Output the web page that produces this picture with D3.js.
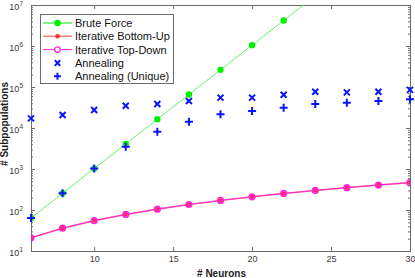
<!DOCTYPE html>
<html>
<head>
<meta charset="utf-8">
<script src="https://cdn.jsdelivr.net/npm/d3@7"></script>
<style>
  body { margin: 0; background: #fff; }
  svg { display: block; font-family: "Liberation Sans", Arial, sans-serif; }
</style>
</head>
<body>
<svg id="chart" width="415" height="278"></svg>
<script>
// data
var neurons = [6, 8, 10, 12, 14, 16, 18, 20, 22, 24, 26, 28, 30]
var bruteForce = [64, 256, 1024, 4096, 16384, 65536, 262144, 1048576, 4194304, 16777216, 67108864, 268435456, 1073741824]
var bottomUp = [21, 36, 55, 78, 105, 136, 171, 210, 253, 300, 351, 406, 465]
var topDown = [21, 36, 55, 78, 105, 136, 171, 210, 253, 300, 351, 406, 465]
var annealing = [17200, 20700, 27500, 35000, 38400, 45700, 55000, 55000, 64600, 76700, 74000, 76700, 85000]
var annealingUnique = [64, 256, 1024, 3480, 8100, 14300, 21600, 26000, 31300, 38400, 41400, 45700, 50000]
var xTicks = [10, 15, 20, 25, 30]
var yTicks = [1e1, 1e2, 1e3, 1e4, 1e5, 1e6, 1e7]
var legendNames = ['Brute Force', 'Iterative Bottom-Up', 'Iterative Top-Down', 'Annealing', 'Annealing (Unique)']

var margin = { top: 5, right: 5, bottom: 27, left: 31 }
var width = 415, height = 278

var svg = d3.select('#chart')

var xScale = d3.scaleLinear()
  .domain([6, 30])
  .range([margin.left, width - margin.right])

var yScale = d3.scaleLog()
  .domain([1e1, 1e7])
  .range([height - margin.bottom, margin.top])

var axisColor = '#6b6b6b'
var textColor = '#3a3a3a'

svg.append('clipPath').attr('id', 'plotClip')
  .append('rect')
  .attr('x', margin.left).attr('y', margin.top)
  .attr('width', xScale.range()[1] - margin.left)
  .attr('height', yScale.range()[0] - margin.top)

// minor log ticks
var minorTicks = []
for (var e = 1; e < 7; e++) {
  for (var m = 2; m <= 9; m++) minorTicks.push(m * Math.pow(10, e))
}

// axes (MATLAB style box, ticks inward)
var xBottom = d3.axisBottom(xScale).tickValues(xTicks).tickSize(-4).tickPadding(5).tickFormat(d3.format('d'))
var xTop = d3.axisTop(xScale).tickValues(xTicks).tickSize(-4).tickFormat('')
var yLeft = d3.axisLeft(yScale).tickValues(yTicks).tickSize(-4).tickPadding(6).tickFormat('')
var yRight = d3.axisRight(yScale).tickValues(yTicks).tickSize(-4).tickFormat('')
var yLeftMinor = d3.axisLeft(yScale).tickValues(minorTicks).tickSize(-2).tickFormat('')
var yRightMinor = d3.axisRight(yScale).tickValues(minorTicks).tickSize(-2).tickFormat('')

function styleAxis(g) {
  g.selectAll('path.domain').attr('stroke', axisColor)
  g.selectAll('line').attr('stroke', axisColor)
  g.selectAll('text').attr('fill', textColor).style('font-size', '9px').style('font-family', '"Liberation Sans", Arial, sans-serif')
}

svg.append('g').attr('transform', 'translate(0,' + yScale.range()[0] + ')').call(xBottom).call(styleAxis)
svg.append('g').attr('transform', 'translate(0,' + margin.top + ')').call(xTop).call(styleAxis)
svg.append('g').attr('transform', 'translate(' + margin.left + ',0)').call(yLeftMinor).call(styleAxis)
svg.append('g').attr('transform', 'translate(' + xScale.range()[1] + ',0)').call(yRightMinor).call(styleAxis)
var yAxisG = svg.append('g').attr('transform', 'translate(' + margin.left + ',0)').call(yLeft).call(styleAxis)
svg.append('g').attr('transform', 'translate(' + xScale.range()[1] + ',0)').call(yRight).call(styleAxis)

// y tick labels as 10 with superscript
yAxisG.selectAll('.tick').each(function(d) {
  var t = d3.select(this).append('text')
    .attr('x', -8).attr('dy', '0.45em')
    .attr('text-anchor', 'end')
    .attr('fill', textColor)
    .style('font-size', '9px')
  t.append('tspan').text('10')
  t.append('tspan').attr('dy', '-0.55em').style('font-size', '6.5px').text(Math.round(Math.log10(d)))
})

// axis titles
svg.append('text')
  .attr('x', (margin.left + xScale.range()[1]) / 2 + 1)
  .attr('y', 277)
  .attr('text-anchor', 'middle')
  .style('font-size', '10px').style('font-weight', 'bold')
  .attr('fill', '#222')
  .text('# Neurons')

svg.append('text')
  .attr('transform', 'translate(8,' + 124 + ') rotate(-90)')
  .attr('text-anchor', 'middle')
  .style('font-size', '10px').style('font-weight', 'bold')
  .attr('fill', '#222')
  .text('# Subpopulations')

var plot = svg.append('g').attr('clip-path', 'url(#plotClip)')

function series(values) {
  return neurons.map(function(n, i) { return { x: n, y: values[i] } })
}

var line = d3.line()
  .x(function(d) { return xScale(d.x) })
  .y(function(d) { return yScale(d.y) })

var green = '#00ee00', red = '#ff2a2a', magenta = '#ff22dd', blue = '#0a14ff'

// brute force
plot.append('path').datum(series(bruteForce))
  .attr('d', line).attr('fill', 'none').attr('stroke', '#66f266').attr('stroke-width', 1)
plot.selectAll('.bf').data(series(bruteForce)).enter().append('circle')
  .attr('cx', function(d) { return xScale(d.x) }).attr('cy', function(d) { return yScale(d.y) })
  .attr('r', 3.2).attr('fill', green)

// iterative bottom-up
plot.append('path').datum(series(bottomUp))
  .attr('d', line).attr('fill', 'none').attr('stroke', '#ff8080').attr('stroke-width', 1.6)
plot.selectAll('.bu').data(series(bottomUp)).enter().append('circle')
  .attr('cx', function(d) { return xScale(d.x) }).attr('cy', function(d) { return yScale(d.y) })
  .attr('r', 2.2).attr('fill', red)

// iterative top-down
plot.append('path').datum(series(topDown))
  .attr('d', line).attr('fill', 'none').attr('stroke', magenta).attr('stroke-width', 1)
plot.selectAll('.td').data(series(topDown)).enter().append('circle')
  .attr('cx', function(d) { return xScale(d.x) }).attr('cy', function(d) { return yScale(d.y) })
  .attr('r', 2.8).attr('fill', 'none').attr('stroke', magenta).attr('stroke-width', 1.6)

function cross(g, s) {
  g.append('path').attr('d', 'M' + -s + ',' + -s + 'L' + s + ',' + s + 'M' + -s + ',' + s + 'L' + s + ',' + -s)
    .attr('stroke', blue).attr('stroke-width', 2).attr('fill', 'none')
}
function plus(g, s) {
  g.append('path').attr('d', 'M' + -s + ',0L' + s + ',0M0,' + -s + 'L0,' + s)
    .attr('stroke', blue).attr('stroke-width', 2).attr('fill', 'none')
}

var markerG = svg.append('g')
markerG.selectAll('.an').data(series(annealing)).enter().append('g')
  .attr('transform', function(d) { return 'translate(' + xScale(d.x) + ',' + yScale(d.y) + ')' })
  .each(function() { cross(d3.select(this), 3) })
markerG.selectAll('.au').data(series(annealingUnique)).enter().append('g')
  .attr('transform', function(d) { return 'translate(' + xScale(d.x) + ',' + yScale(d.y) + ')' })
  .each(function() { plus(d3.select(this), 4) })

// legend
var legend = svg.append('g')
legend.append('rect')
  .attr('x', 40.5).attr('y', 14.5).attr('width', 133).attr('height', 69)
  .attr('fill', '#fff').attr('stroke', axisColor).attr('stroke-width', 1)

var rowY = [23, 36.3, 49.6, 63, 76.3]
legendNames.forEach(function(name, i) {
  var row = legend.append('g').attr('transform', 'translate(0,' + rowY[i] + ')')
  if (i === 0) {
    row.append('line').attr('x1', 43).attr('x2', 72).attr('stroke', green).attr('stroke-width', 1)
    row.append('circle').attr('cx', 57.5).attr('r', 3.2).attr('fill', green)
  } else if (i === 1) {
    row.append('line').attr('x1', 43).attr('x2', 72).attr('stroke', '#ff8080').attr('stroke-width', 1.6)
    row.append('circle').attr('cx', 57.5).attr('r', 2.2).attr('fill', red)
  } else if (i === 2) {
    row.append('line').attr('x1', 43).attr('x2', 72).attr('stroke', magenta).attr('stroke-width', 1)
    row.append('circle').attr('cx', 57.5).attr('r', 2.8).attr('fill', '#fff').attr('stroke', magenta).attr('stroke-width', 1.3)
  } else if (i === 3) {
    cross(row.append('g').attr('transform', 'translate(57.5,0)'), 2.7)
  } else {
    plus(row.append('g').attr('transform', 'translate(57.5,0)'), 3.5)
  }
  row.append('text').attr('x', 75).attr('dy', '0.36em')
    .style('font-size', '11px').attr('fill', '#111')
    .text(name)
})
</script>
</body>
</html>
